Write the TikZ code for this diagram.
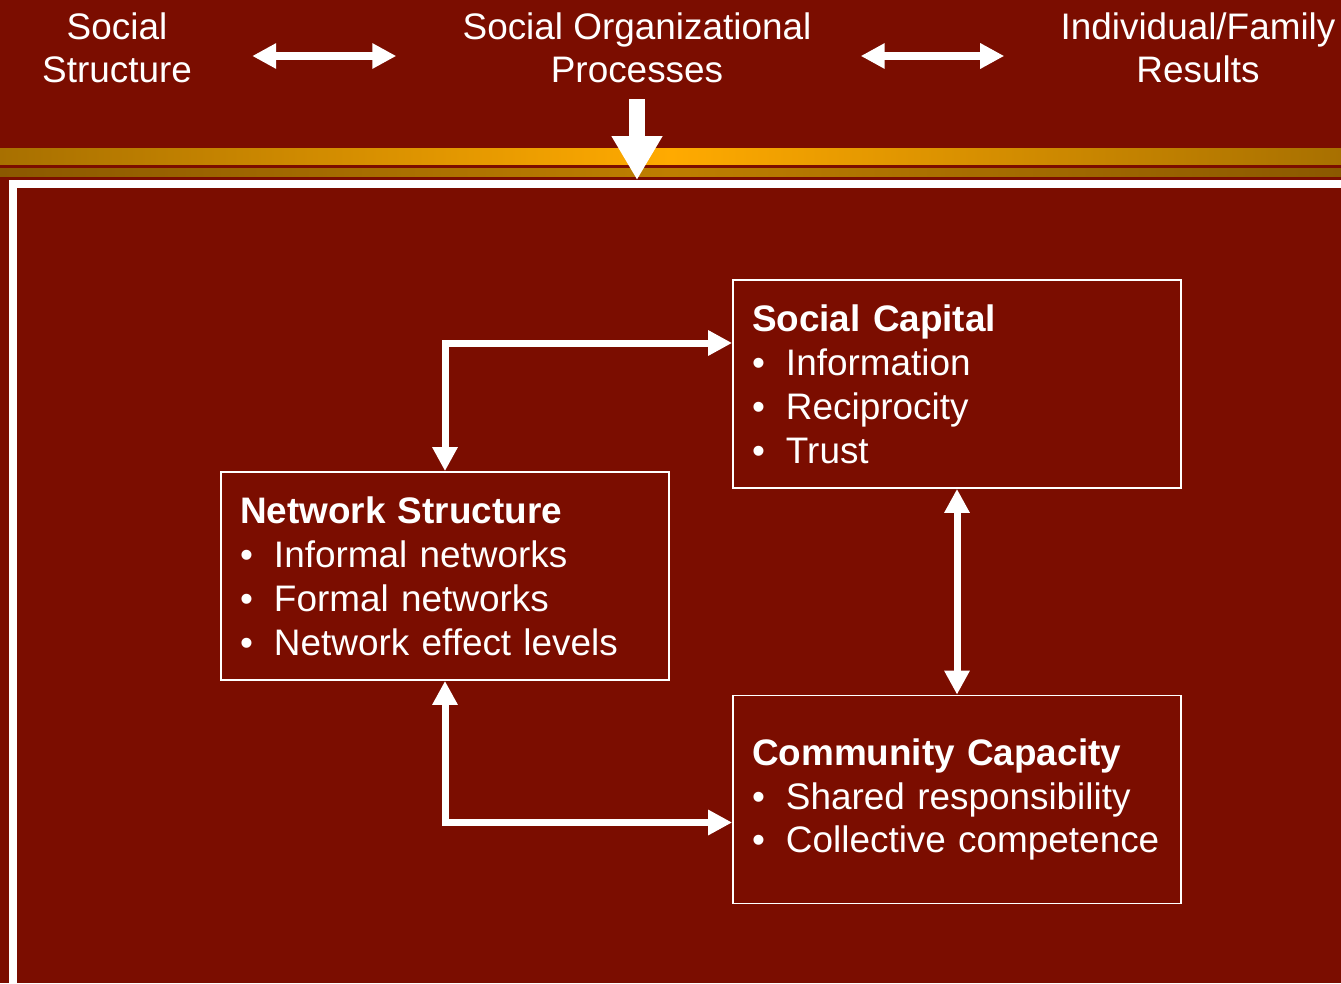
\documentclass[tikz,border=0pt]{standalone}
\usepackage{fontspec}
\setmainfont{Liberation Sans}
\usetikzlibrary{arrows.meta}

\definecolor{maroonbg}{RGB}{123,13,0}
\definecolor{goldlight}{RGB}{255,170,0}
\definecolor{golddark}{RGB}{168,112,0}
\definecolor{bronzelight}{RGB}{190,126,0}
\definecolor{bronzedark}{RGB}{139,88,0}

\newcommand{\bul}{\makebox[0.68cm][l]{\textbullet}}

\begin{document}
\begin{tikzpicture}[toplabel/.style={text=white, align=center, inner sep=0pt, anchor=north, font=\fontsize{21}{24.5}\selectfont},
boxnode/.style={rectangle, draw=white, line width=0.035cm, text=white, align=left, text width=8.2cm, inner xsep=0.38cm, minimum width=8.96cm, minimum height=4.16cm, font=\fontsize{21}{25}\selectfont},
dblarrow/.style={white, line width=0.16cm, {Triangle[length=0.48cm,width=0.48cm]}-{Triangle[length=0.48cm,width=0.48cm]}},
conn/.style={white, line width=0.14cm, {Triangle[length=0.48cm,width=0.48cm]}-{Triangle[length=0.48cm,width=0.48cm]}},
bigarrow/.style={white, line width=0.32cm, -{Triangle[length=0.88cm,width=0.96cm]}}]

\fill[maroonbg] (0,0) rectangle (26.82,-19.66);
\useasboundingbox (0,0) rectangle (26.82,-19.66);

\shade[left color=golddark, right color=golddark, middle color=goldlight] (0,-2.96) rectangle (26.82,-3.28);
\shade[left color=bronzedark, right color=bronzedark, middle color=bronzelight] (0,-3.36) rectangle (26.82,-3.52);
\draw[white, line width=0.16cm] (0.26,-19.8) -- (0.26,-3.68) -- (26.9,-3.68);

\node[toplabel](socstruct) at (2.34, -0.25){Social\\Structure};
\node[toplabel](socorg) at (12.74, -0.25){Social Organizational\\Processes};
\node[toplabel](indfam) at (23.96, -0.25){Individual/Family\\Results};

\coordinate (arrowrow) at (0, -1.12);
\coordinate (frametip) at (0, -3.6);

\draw[dblarrow, shorten <=1.2cm, shorten >=1.32cm](socstruct.east |- arrowrow) -- (socorg.west |- arrowrow);
\draw[dblarrow, shorten <=0.98cm, shorten >=1.12cm](socorg.east |- arrowrow) -- (indfam.west |- arrowrow);
\draw[bigarrow, shorten <=0.32cm](socorg.south) -- (socorg.south |- frametip);

\node[boxnode](socialcapital) at (19.14, -7.68){\textbf{Social Capital}\\ \bul Information\\ \bul Reciprocity\\ \bul Trust};
\node[boxnode](netstruct) at (8.9, -11.52){\textbf{Network Structure}\\ \bul Informal networks\\ \bul Formal networks\\ \bul Network effect levels};
\node[boxnode](commcap) at (19.14, -15.99){\textbf{Community Capacity}\\ \bul Shared responsibility\\ \bul Collective competence};

\draw[conn]([yshift=0.82cm]socialcapital.west) -| (netstruct.north);
\draw[conn](netstruct.south) |- ([yshift=-0.46cm]commcap.west);
\draw[conn](socialcapital.south) -- (commcap.north);

\end{tikzpicture}
\end{document}
